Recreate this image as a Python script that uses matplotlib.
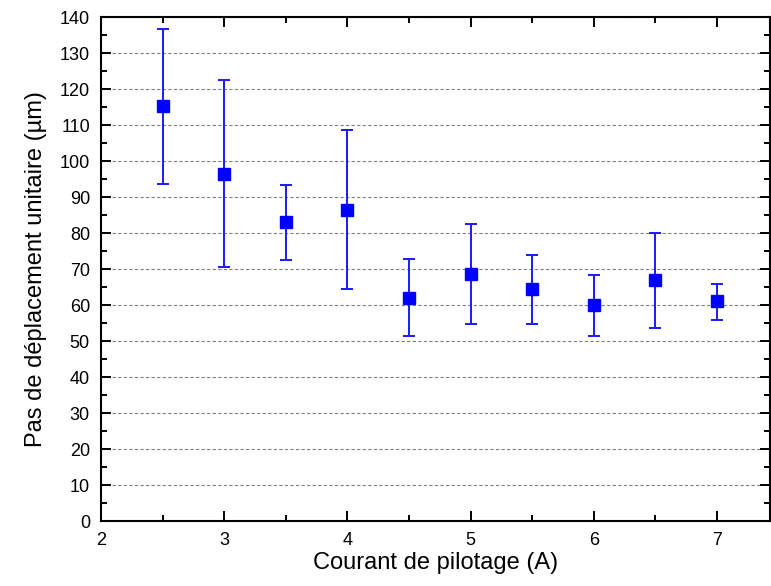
import matplotlib
matplotlib.use("Agg")
import numpy as np
import matplotlib.pyplot as plt
from matplotlib.ticker import MultipleLocator

# --- data -------------------------------------------------------------------
courant = [2.5, 3.0, 3.5, 4.0, 4.5, 5.0, 5.5, 6.0, 6.5, 7.0]
pas_moy = [115.3, 96.6, 83.0, 86.6, 62.1, 68.8, 64.4, 60.0, 66.9, 61.1]
pas_haut = [136.7, 122.7, 93.4, 108.7, 72.9, 82.7, 73.9, 68.5, 80.0, 65.8]
pas_bas = [93.7, 70.5, 72.6, 64.4, 51.5, 54.8, 54.8, 51.5, 53.7, 55.9]

plt.rcParams.update({
    "font.family": ["Liberation Sans", "DejaVu Sans"],
    "font.size": 13,
})

moy = np.array(pas_moy)
err = [moy - np.array(pas_bas), np.array(pas_haut) - moy]

fig = plt.figure(figsize=(7.71, 5.86), dpi=100)
# axes frame: left 101 px, right 770 px, top 17 px, bottom 521 px
ax = fig.add_axes([101 / 771, 1 - 521.3 / 586, 669 / 771, 504 / 586])

ax.errorbar(courant, moy, yerr=err, fmt="s", color="#0000ff", ecolor="#1a1aff",
            ms=8.4, elinewidth=1.4, capsize=4, capthick=1.4, zorder=3)

ax.set_xlim(2, 7.43)
ax.set_ylim(0, 140)
ax.xaxis.set_major_locator(MultipleLocator(1))
ax.xaxis.set_minor_locator(MultipleLocator(0.5))
ax.yaxis.set_major_locator(MultipleLocator(10))
ax.yaxis.set_minor_locator(MultipleLocator(5))

ax.grid(axis="y", which="major", color="#808080", ls=(0, (3, 2)), lw=0.8, zorder=0)
ax.tick_params(which="both", direction="in", top=True, right=True, labelsize=13,
               width=1.4, colors="black")
ax.tick_params(which="major", length=7.5)
ax.tick_params(which="minor", length=4.3)
ax.tick_params(axis="x", which="major", pad=8)
ax.tick_params(axis="y", which="major", pad=8)
for s in ax.spines.values():
    s.set_linewidth(1.5)

ax.set_xlabel("Courant de pilotage (A)", fontsize=17, labelpad=2)
ax.set_ylabel("Pas de déplacement unitaire (µm)", fontsize=17, labelpad=9)

fig.savefig("out.png", dpi=100)
